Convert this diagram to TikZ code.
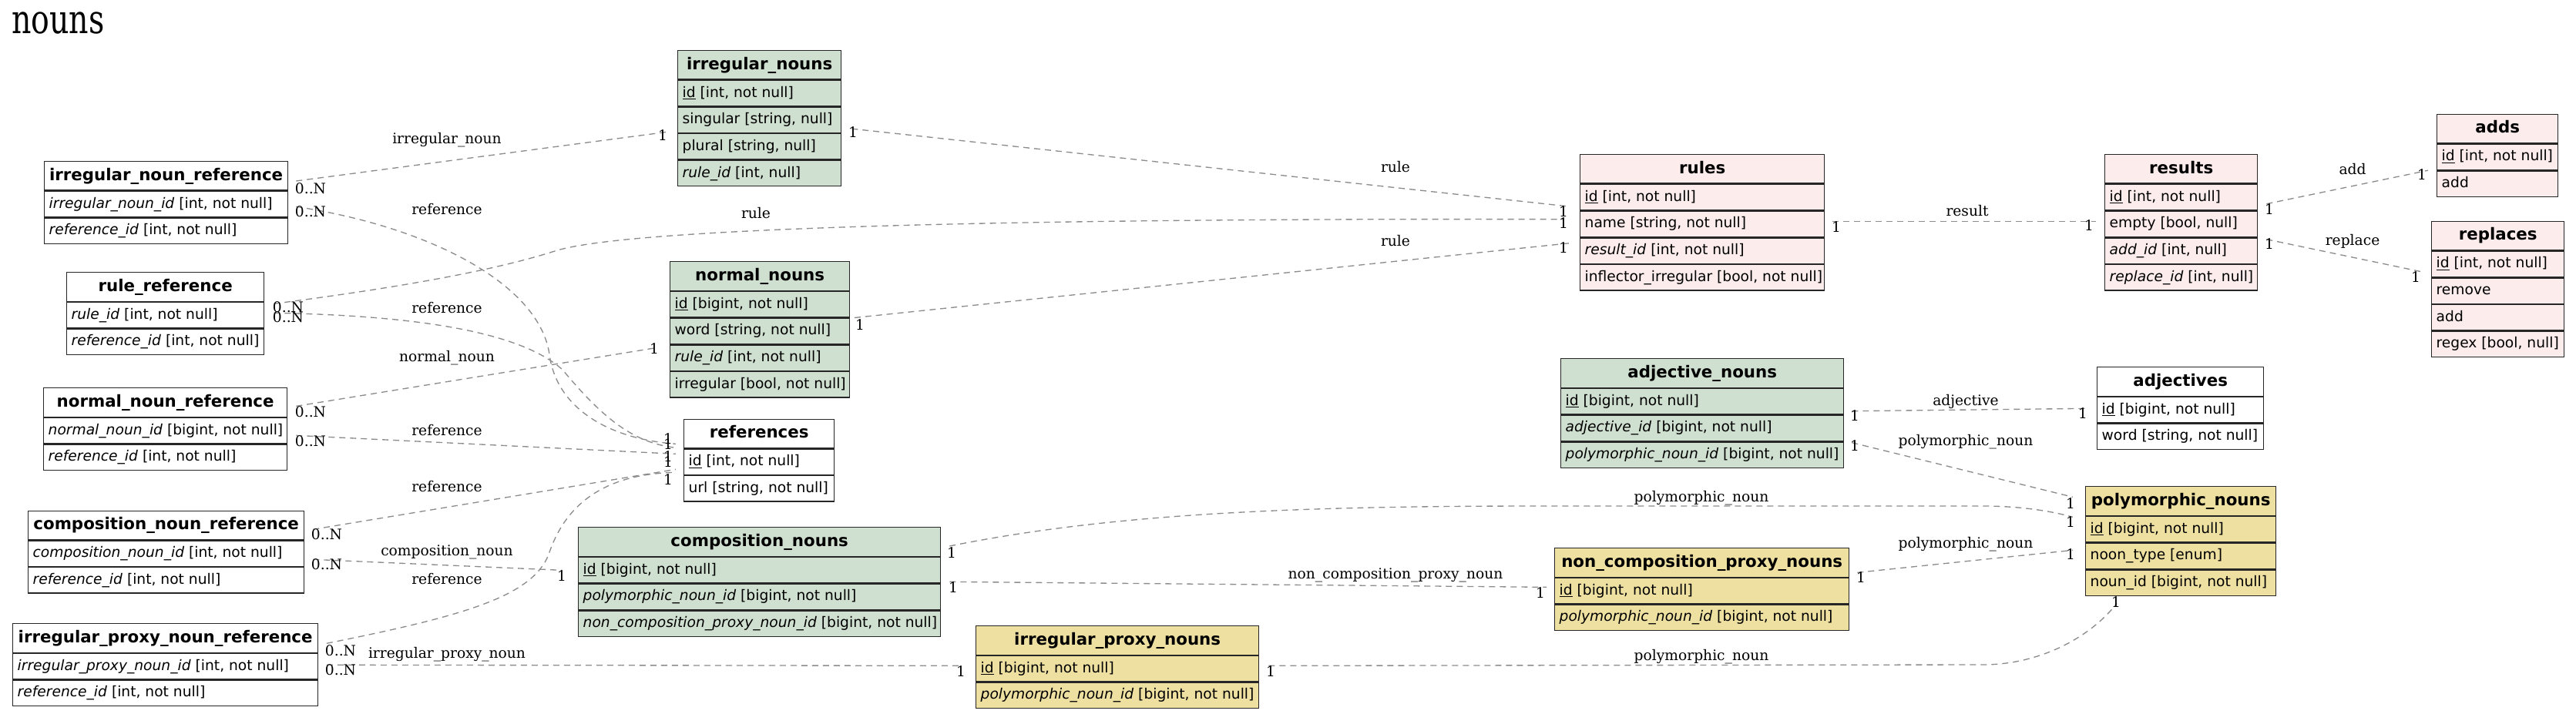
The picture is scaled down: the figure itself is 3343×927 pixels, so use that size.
\documentclass[tikz,border=0pt]{standalone}
\usepackage{fontspec}
\setmainfont{DejaVu Sans}
\newfontfamily\lblfont{DejaVu Serif}
\newfontfamily\titlefont[FakeStretch=0.76]{DejaVu Serif}
\usepackage{tikz}
\definecolor{tblgreen}{RGB}{208,224,208}
\definecolor{tblpink}{RGB}{252,236,236}
\definecolor{tblsand}{RGB}{238,224,160}
\definecolor{linkgray}{RGB}{140,140,140}
\tikzset{
  tblhead/.style={draw=black!85,line width=1pt,anchor=north west,inner sep=0pt,
    minimum height=28.125pt,text height=12pt,text depth=3.5pt,
    font=\fontsize{16pt}{19pt}\selectfont\bfseries},
  tblrow/.style={draw=black!85,line width=1pt,anchor=north west,inner ysep=0pt,inner xsep=4.5pt,
    minimum height=25pt,text height=10.5pt,text depth=3pt,
    font=\fontsize{14pt}{17pt}\selectfont},
  conn/.style={draw=linkgray,line width=1pt,dash pattern=on 6pt off 4.5pt},
  lbl/.style={inner sep=0pt,font=\lblfont\fontsize{14pt}{17pt}\selectfont},
  card/.style={lbl}
}
% table: name, top left, width (px), fill, title, rows
\newcommand{\ertable}[6]{%
  \pgfmathsetlengthmacro\tblw{#3*0.75pt}%
  \pgfmathsetlengthmacro\tblt{#3*0.75pt-9pt}%
  \node[tblhead,fill=#4,minimum width=\tblw,alias=#1-0] (#1) at #2 {#5};
  \foreach \fld [count=\i] in {#6} {
    \pgfmathtruncatemacro\prv{\i-1}
    \node[tblrow,fill=#4,minimum width=\tblw] (#1-\i) at (#1-\prv.south west) {\makebox[\tblt][l]{\fld}};
  }%
}
\begin{document}
\begin{tikzpicture}[x=0.75pt,y=-0.75pt]
\useasboundingbox (0,0) rectangle (3343,927);
\node[font=\titlefont\fontsize{39pt}{44pt}\selectfont,anchor=base west,inner sep=0pt] (title) at (15,44) {nouns};

% tables
\ertable{inn}{(879,65)}{212}{tblgreen}{irregular\_nouns}
  {{\underline{id} [int, not null]},{singular [string, null]},{plural [string, null]},{\textit{rule\_id} [int, null]}}
\ertable{inr}{(57,209)}{316}{white}{irregular\_noun\_reference}
  {{\textit{irregular\_noun\_id} [int, not null]},{\textit{reference\_id} [int, not null]}}
\ertable{rr}{(86,353)}{256}{white}{rule\_reference}
  {{\textit{rule\_id} [int, not null]},{\textit{reference\_id} [int, not null]}}
\ertable{nn}{(869,339)}{233}{tblgreen}{normal\_nouns}
  {{\underline{id} [bigint, not null]},{word [string, not null]},{\textit{rule\_id} [int, not null]},{irregular [bool, not null]}}
\ertable{nnr}{(56,503)}{316}{white}{normal\_noun\_reference}
  {{\textit{normal\_noun\_id} [bigint, not null]},{\textit{reference\_id} [int, not null]}}
\ertable{refs}{(887,543.5)}{195}{white}{references}
  {{\underline{id} [int, not null]},{url [string, not null]}}
\ertable{cnr}{(36,662.5)}{358}{white}{composition\_noun\_reference}
  {{\textit{composition\_noun\_id} [int, not null]},{\textit{reference\_id} [int, not null]}}
\ertable{cn}{(750,684)}{470}{tblgreen}{composition\_nouns}
  {{\underline{id} [bigint, not null]},{\textit{polymorphic\_noun\_id} [bigint, not null]},{\textit{non\_composition\_proxy\_noun\_id} [bigint, not null]}}
\ertable{ipnr}{(16,809)}{396}{white}{irregular\_proxy\_noun\_reference}
  {{\textit{irregular\_proxy\_noun\_id} [int, not null]},{\textit{reference\_id} [int, not null]}}
\ertable{ipn}{(1266,812)}{367}{tblsand}{irregular\_proxy\_nouns}
  {{\underline{id} [bigint, not null]},{\textit{polymorphic\_noun\_id} [bigint, not null]}}
\ertable{rules}{(2050,200)}{317}{tblpink}{rules}
  {{\underline{id} [int, not null]},{name [string, not null]},{\textit{result\_id} [int, not null]},{inflector\_irregular [bool, not null]}}
\ertable{res}{(2731,200)}{198}{tblpink}{results}
  {{\underline{id} [int, not null]},{empty [bool, null]},{\textit{add\_id} [int, null]},{\textit{replace\_id} [int, null]}}
\ertable{adds}{(3162,147.7)}{157}{tblpink}{adds}
  {{\underline{id} [int, not null]},{add}}
\ertable{repl}{(3155,286.7)}{172}{tblpink}{replaces}
  {{\underline{id} [int, not null]},{remove},{add},{regex [bool, null]}}
\ertable{an}{(2025,465)}{367}{tblgreen}{adjective\_nouns}
  {{\underline{id} [bigint, not null]},{\textit{adjective\_id} [bigint, not null]},{\textit{polymorphic\_noun\_id} [bigint, not null]}}
\ertable{adj}{(2721,476)}{216}{white}{adjectives}
  {{\underline{id} [bigint, not null]},{word [string, not null]}}
\ertable{pn}{(2706,631)}{247}{tblsand}{polymorphic\_nouns}
  {{\underline{id} [bigint, not null]},{noon\_type [enum]},{noun\_id [bigint, not null]}}
\ertable{ncpn}{(2017,711)}{382}{tblsand}{non\_composition\_proxy\_nouns}
  {{\underline{id} [bigint, not null]},{\textit{polymorphic\_noun\_id} [bigint, not null]}}

% relations
\draw[conn] ([shift={(10,26)}]inr.north east) -- ([shift={(-12,-2)}]inn-3.north west);
\draw[conn] ([shift={(10,20.5)}]inr-1.north east) .. controls (560,295) and (700,370) .. (713,460)
  .. controls (722,530) and (790,570) .. ([shift={(-10,-6)}]refs-1.north west);
\draw[conn] ([shift={(12,2.5)}]rr-1.north east) .. controls (560,368) and (660,345) .. (720,326)
  .. controls (800,300) and (1200,283) .. ([shift={(-21,11.2)}]rules-2.north west);
\draw[conn] ([shift={(12,14.5)}]rr-1.north east) .. controls (560,410) and (680,435) .. (730,480)
  .. controls (780,540) and (820,575) .. ([shift={(-10,-1)}]refs-1.north west);
\draw[conn] ([shift={(11,-14.5)}]nnr-1.north east) -- ([shift={(-15,4)}]nn-3.north west);
\draw[conn] ([shift={(11,23.5)}]nnr-1.north east) -- ([shift={(-10,7)}]refs-1.north west);
\draw[conn] ([shift={(11,-14)}]cnr-1.north east) -- ([shift={(-10,27)}]refs-1.north west);
\draw[conn] ([shift={(11,25)}]cnr-1.north east) -- ([shift={(-21,17.5)}]cn-1.north west);
\draw[conn] ([shift={(10.5,-12.5)}]ipnr-1.north east) .. controls (600,800) and (690,775) .. (712,720)
  .. controls (735,650) and (790,615) .. ([shift={(-10,31)}]refs-1.north west);
\draw[conn] ([shift={(10.5,15.5)}]ipnr-1.north east) -- ([shift={(-19,13.5)}]ipn-1.north west);
\draw[conn] ([shift={(13,-6)}]inn-3.north east) -- ([shift={(-17,-5.8)}]rules-2.north west);
\draw[conn] ([shift={(5.5,0)}]nn-2.north east) -- ([shift={(-13,42.2)}]rules-2.north west);
\draw[conn] ([shift={(10,14.2)}]rules-2.north east) -- ([shift={(-11,14.2)}]res-2.north west);
\draw[conn] ([shift={(11,-8.8)}]res-2.north east) -- ([shift={(-11,0)}]adds-2.north west);
\draw[conn] ([shift={(11,37.2)}]res-2.north east) -- ([shift={(-10,27.8)}]repl-1.north west);
\draw[conn] ([shift={(10,-4.8)}]an-2.north east) -- ([shift={(-11,15.5)}]adj-1.north west);
\draw[conn] ([shift={(10,36.2)}]an-2.north east) -- ([shift={(-16,-24.5)}]pn-1.north west);
\draw[conn] ([shift={(11,25)}]cn.north east) .. controls (1450,665) and (1700,657) .. (2000,657) -- (2573,657)
  .. controls (2620,657) and (2660,663) .. ([shift={(-16,1.5)}]pn-1.north west);
\draw[conn] ([shift={(11,32.5)}]cn-1.north east) -- ([shift={(-10,12.5)}]ncpn-1.north west);
\draw[conn] ([shift={(10,-6.5)}]ncpn-1.north east) -- ([shift={(-16,44.5)}]pn-1.north west);
\draw[conn] ([shift={(12,13.5)}]ipn-1.north east) -- (2573,863)
  .. controls (2650,863) and (2715,825) .. ([shift={(41,9.5)}]pn-3.south west);

% relation names
\foreach \x/\y/\t [count=\k] in {580/182/irregular\_noun, 580/272/reference, 981/277/rule,
  580/400/reference, 580/465/normal\_noun, 580/559/reference, 580/632/reference,
  580/717/composition\_noun, 580/752/reference, 580/850/irregular\_proxy\_noun,
  1811/217/rule, 1811/313/rule, 2553/274/result, 3053/220/add, 3053/313/replace,
  2551/521/adjective, 2551/574/polymorphic\_noun, 2208/647/polymorphic\_noun,
  1811/747/non\_composition\_proxy\_noun, 2551/707/polymorphic\_noun, 2208/853/polymorphic\_noun} {
  \node[lbl] (e\k) at (\x,\y) {\t};
}
% cardinalities
\foreach \x/\y/\t [count=\k] in {403/245/0..N, 403/275/0..N, 374/399/0..N, 374/412/0..N,
  403/535/0..N, 403/573/0..N, 424/694/0..N, 424/733/0..N, 442/845/0..N, 442/870/0..N,
  860/176/1, 1107/172/1, 2029/275/1, 2029/290/1, 2029/322/1, 1116/422/1, 849/453/1,
  867/570/1, 867/577/1, 867/593/1, 867/600/1, 867/623/1, 729/748/1, 1235/718/1, 1237/763/1,
  1247/872/1, 1649/872/1, 1999/770/1, 2415/750/1, 2383/295/1, 2711/293/1, 2945/272/1,
  2945/317/1, 3143/227/1, 3135/360/1, 2407/540/1, 2407/579/1, 2703/537/1, 2687/654/1,
  2687/678/1, 2687/720/1, 2746/782/1} {
  \node[card] (m\k) at (\x,\y) {\t};
}
\end{tikzpicture}
\end{document}
